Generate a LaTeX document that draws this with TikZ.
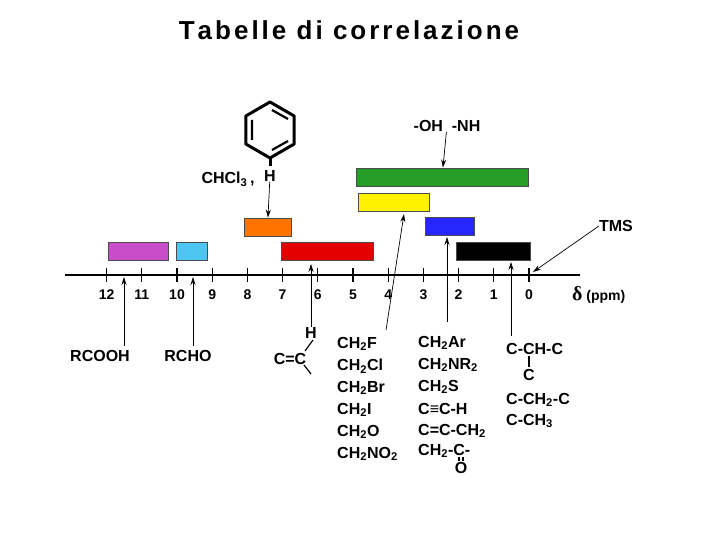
\documentclass[tikz,border=0pt]{standalone}
\usepackage{fontspec}
\setmainfont{Liberation Sans}
\newfontfamily\serifd{Liberation Serif}
\newcommand{\sbx}[1]{\textsubscript{#1}}
\usetikzlibrary{arrows.meta}
\begin{document}
\begin{tikzpicture}[x=1pt,y=-1pt,
 bar/.style={draw=black!70,line width=0.8pt},
 lab/.style={font=\bfseries\fontsize{16}{18}\selectfont,inner sep=0pt},
 tk/.style={font=\bfseries\fontsize{14}{16}\selectfont,inner sep=0pt},
 arr/.style={-{Stealth[length=8pt,width=5pt]},line width=0.7pt},
 col/.style={lab,anchor=west}]
\useasboundingbox (0,0) rectangle (720,540);
\node[font=\bfseries\fontsize{26}{30}\selectfont] (title) at (349,30) {T\kern3pt a\kern3pt b\kern3pt e\kern3pt l\kern3pt l\kern3pt e\kern3pt\ d\kern3pt i\kern3pt\ c\kern3pt o\kern3pt r\kern3pt r\kern3pt e\kern3pt l\kern3pt a\kern3pt z\kern3pt i\kern3pt o\kern3pt n\kern3pt e};
% axis
\draw[line width=1.2pt] (65,275) -- (580,275);
\foreach \p in {0,...,12}{
 \draw[line width=1.2pt] ({529-35.2*\p},268) -- ({529-35.2*\p},282);
 \node[tk] at ({529-35.2*\p},295) {\p};}
\node[tk,anchor=west] (ppm) at (572,295) {{\serifd\fontsize{20}{20}\selectfont δ} (ppm)};
% bars
\node[bar,fill=green!55!black!85,minimum width=172,minimum height=18,inner sep=0] (green) at (442,177) {};
\node[bar,fill=yellow,minimum width=71,minimum height=18,inner sep=0] (yellow) at (393.5,202) {};
\node[bar,fill=orange!90!red,minimum width=47,minimum height=18,inner sep=0] (orange) at (267.5,227) {};
\node[bar,fill=blue!85!white,minimum width=49,minimum height=18,inner sep=0] (blue) at (449.5,226) {};
\node[bar,fill=violet!60!magenta!70!white,minimum width=60,minimum height=18,inner sep=0] (purple) at (138,251) {};
\node[bar,fill=cyan!70!white,minimum width=31,minimum height=18,inner sep=0] (cyan) at (191.5,251) {};
\node[bar,fill=red!90!black,minimum width=92,minimum height=18,inner sep=0] (red) at (327,251) {};
\node[bar,fill=black,minimum width=74,minimum height=18,inner sep=0] (black) at (493,251) {};
% benzene
\draw[line width=3pt,line join=round] (270,102) -- (294.2,116) -- (294.2,144) -- (270,158) -- (245.8,144) -- (245.8,116) -- cycle;
\draw[line width=2.2pt] (252,120) -- (252,140) (288,119) -- (272,110) (288,141) -- (272,150);
\draw[line width=3pt] (270,158) -- (270,166);
\node[lab] (H1) at (270,176) {H};
\node[lab] (chcl) at (228,179) {CHCl\sbx{3}\,,};
\draw[arr] (H1) -- (orange);
\node[lab] (ohnh) at (447,126) {-OH\ \ -NH};
\draw[arr] (ohnh) -- (green);
\node[lab] (tms) at (616,226) {TMS};
\coordinate (t0) at (533,272);
\draw[arr] (tms.west) -- (t0);
% bottom labels
\node[lab] (rcooh) at (100,356) {RCOOH};
\node[lab] (rcho) at (188,356) {RCHO};
\coordinate (a1) at (124,277); \coordinate (a2) at (193,277);
\draw[arr] (124,346) -- (a1);
\draw[arr] (193,346) -- (a2);
\node[lab] (H2) at (311,333) {H};
\node[lab] (cc) at (290,359) {C=C};
\draw[line width=1.2pt] (313,340) -- (305,351) (304,365) -- (311,374);
\coordinate (a3) at (311,264);
\draw[arr] (H2.north) -- (a3);
\coordinate (a4) at (404,214);
\draw[arr] (386,330) -- (a4);
\coordinate (a5) at (447,237);
\draw[arr] (447,322) -- (a5);
\coordinate (a6) at (511,262);
\draw[arr] (511,336) -- (a6);
% column 1
\foreach \t [count=\i from 0] in {CH\sbx{2}F,CH\sbx{2}Cl,CH\sbx{2}Br,CH\sbx{2}I,CH\sbx{2}O,CH\sbx{2}NO\sbx{2}}
 \node[col] at (337,{344+22*\i}) {\t};
% column 2
\node[col] (c21) at (418,343) {CH\sbx{2}Ar};
\node[col] (c22) at (418,365) {CH\sbx{2}NR\sbx{2}};
\node[col] (c23) at (418,387) {CH\sbx{2}S};
\node[col] (c24) at (418,409) {C≡C-H};
\node[col] (c25) at (418,431) {C=C-CH\sbx{2}};
\node[col] (c26) at (418,451) {CH\sbx{2}-C-};
\node[lab] (o) at (461,468) {O};
\draw[line width=1.2pt] (459,457) -- (459,461) (463,457) -- (463,461);
% column 3
\node[col] (c31) at (506,349) {C-CH-C};
\node[lab] (c32) at (529,375) {C};
\draw[line width=1.2pt] (529,356) -- (529,367);
\node[col] (c33) at (506,400) {C-CH\sbx{2}-C};
\node[col] (c34) at (506,421) {C-CH\sbx{3}};
\end{tikzpicture}
\end{document}
